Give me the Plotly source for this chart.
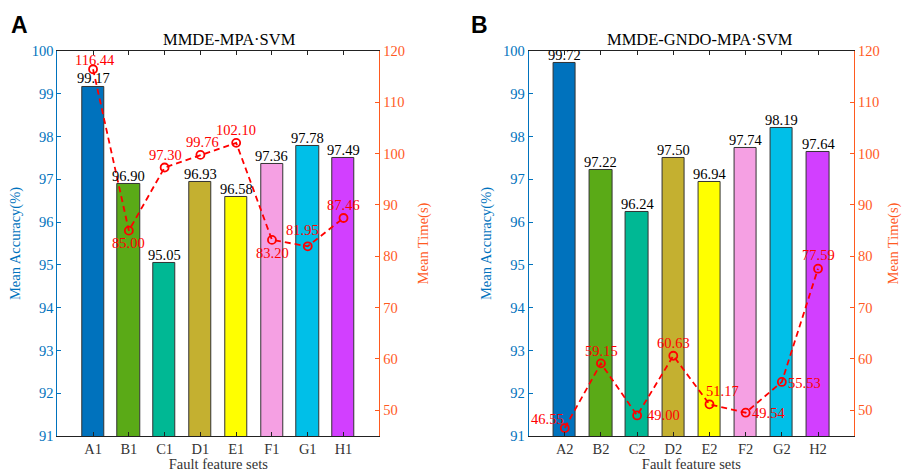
import plotly.graph_objects as go

cats_a = ["A1", "B1", "C1", "D1", "E1", "F1", "G1", "H1"]
acc_a = [99.17, 96.90, 95.05, 96.93, 96.58, 97.36, 97.78, 97.49]
time_a = [116.44, 85.00, 97.30, 99.76, 102.10, 83.20, 81.95, 87.46]

cats_b = ["A2", "B2", "C2", "D2", "E2", "F2", "G2", "H2"]
acc_b = [99.72, 97.22, 96.24, 97.50, 96.94, 97.74, 98.19, 97.64]
time_b = [46.55, 59.15, 49.00, 60.63, 51.17, 49.54, 55.53, 77.59]

bar_colors = ["#0072BD", "#5AAA17", "#00B894", "#C4B030", "#FFFF00", "#F5A0E3", "#00BFE8", "#D23FFF"]
# label offsets (px) of the time labels relative to their points
shift_a = [(2, 9), (0, -12), (1, 13), (2, 13), (0, 13), (1, -13), (-5, 16), (0, 13)]
shift_b = [(-17, 9), (1, 12), (26, 0), (0, 13), (13, 13), (23, 0), (23, -1), (0, 14)]

BLUE = "#0072BD"
ORANGE = "#FF5A1F"
RED = "#FF0000"
FONT = "Liberation Serif"

fig = go.Figure()
annotations = []

panels = [
    (cats_a, acc_a, time_a, shift_a, "x", "y", "y2"),
    (cats_b, acc_b, time_b, shift_b, "x2", "y3", "y4"),
]

for cats, acc, tm, shifts, xa, ya, yb in panels:
    idx = list(range(len(cats)))
    fig.add_trace(go.Bar(
        x=idx, y=acc, base=0, width=0.62,
        marker=dict(color=bar_colors, line=dict(color="#333333", width=1)),
        xaxis=xa, yaxis=ya, showlegend=False, hoverinfo="skip",
    ))
    fig.add_trace(go.Scatter(
        x=idx, y=tm, mode="lines+markers",
        line=dict(color=RED, width=1.8, dash="6px,4px"),
        marker=dict(symbol="circle-open", size=8, color=RED, line=dict(width=1.8)),
        cliponaxis=False, xaxis=xa, yaxis=yb, showlegend=False,
    ))
    for i, v in enumerate(acc):
        annotations.append(dict(
            x=i, y=v, xref=xa, yref=ya, text=f"{v:.2f}", showarrow=False,
            xanchor="center", yanchor="middle", yshift=8,
            font=dict(family=FONT, size=14.5, color="black")))
    for i, v in enumerate(tm):
        dx, dy = shifts[i]
        annotations.append(dict(
            x=i, y=v, xref=xa, yref=yb, text=f"{v:.2f}", showarrow=False,
            xanchor="center", yanchor="middle", xshift=dx, yshift=dy,
            font=dict(family=FONT, size=14.5, color=RED)))

ydom = [0.0763, 0.892]
common_x = dict(
    range=[-1, 8], tickmode="array", tickvals=list(range(8)),
    showline=True, linecolor="#222222", linewidth=1, mirror="ticks",
    ticks="inside", ticklen=4, tickcolor="#222222",
    tickfont=dict(family=FONT, size=14.5, color="#333333"),
    showgrid=False, zeroline=False,
    title=dict(text="Fault feature sets", font=dict(family=FONT, size=14.5, color="#333333"), standoff=6),
)
common_yl = dict(
    range=[91, 100], dtick=1, showline=True, linecolor=BLUE, linewidth=1,
    ticks="inside", ticklen=4, tickcolor=BLUE,
    tickfont=dict(family=FONT, size=14.5, color=BLUE),
    showgrid=False, zeroline=False, domain=ydom,
    title=dict(text="Mean Accuracy(%)", font=dict(family=FONT, size=14.5, color=BLUE), standoff=7),
)
common_yr = dict(
    range=[45, 120], tickvals=[50, 60, 70, 80, 90, 100, 110, 120],
    showline=True, linecolor=ORANGE, linewidth=1,
    ticks="inside", ticklen=4, tickcolor=ORANGE,
    tickfont=dict(family=FONT, size=14.5, color=ORANGE),
    showgrid=False, zeroline=False, side="right",
    title=dict(text="Mean Time(s)", font=dict(family=FONT, size=14.5, color=ORANGE), standoff=13),
)


def ann(text, px, py, size, family, color="black"):
    return dict(text=text, x=px / 902, y=(472 - py) / 472, xref="paper", yref="paper",
                xanchor="center", yanchor="middle", showarrow=False,
                font=dict(family=family, size=size, color=color))


annotations += [
    ann("MMDE-MPA·SVM", 229, 39, 16.5, FONT),
    ann("MMDE-GNDO-MPA·SVM", 700, 39, 16.5, FONT),
    ann("<b>A</b>", 19, 25, 23, "Liberation Sans"),
    ann("<b>B</b>", 480, 25, 23, "Liberation Sans"),
]

fig.update_layout(
    width=902, height=472,
    margin=dict(l=0, r=0, t=0, b=0, autoexpand=False),
    paper_bgcolor="white", plot_bgcolor="white",
    bargap=0,
    xaxis=dict(common_x, domain=[0.0635, 0.4205], ticktext=cats_a, anchor="y"),
    xaxis2=dict(common_x, domain=[0.586, 0.947], ticktext=cats_b, anchor="y3"),
    yaxis=dict(common_yl, anchor="x"),
    yaxis2=dict(common_yr, overlaying="y", anchor="x"),
    yaxis3=dict(common_yl, anchor="x2"),
    yaxis4=dict(common_yr, overlaying="y3", anchor="x2"),
    annotations=annotations,
)

fig.write_html("out.html", config={"displayModeBar": False},
               post_script="document.body.style.margin='0';document.body.style.padding='0';")
